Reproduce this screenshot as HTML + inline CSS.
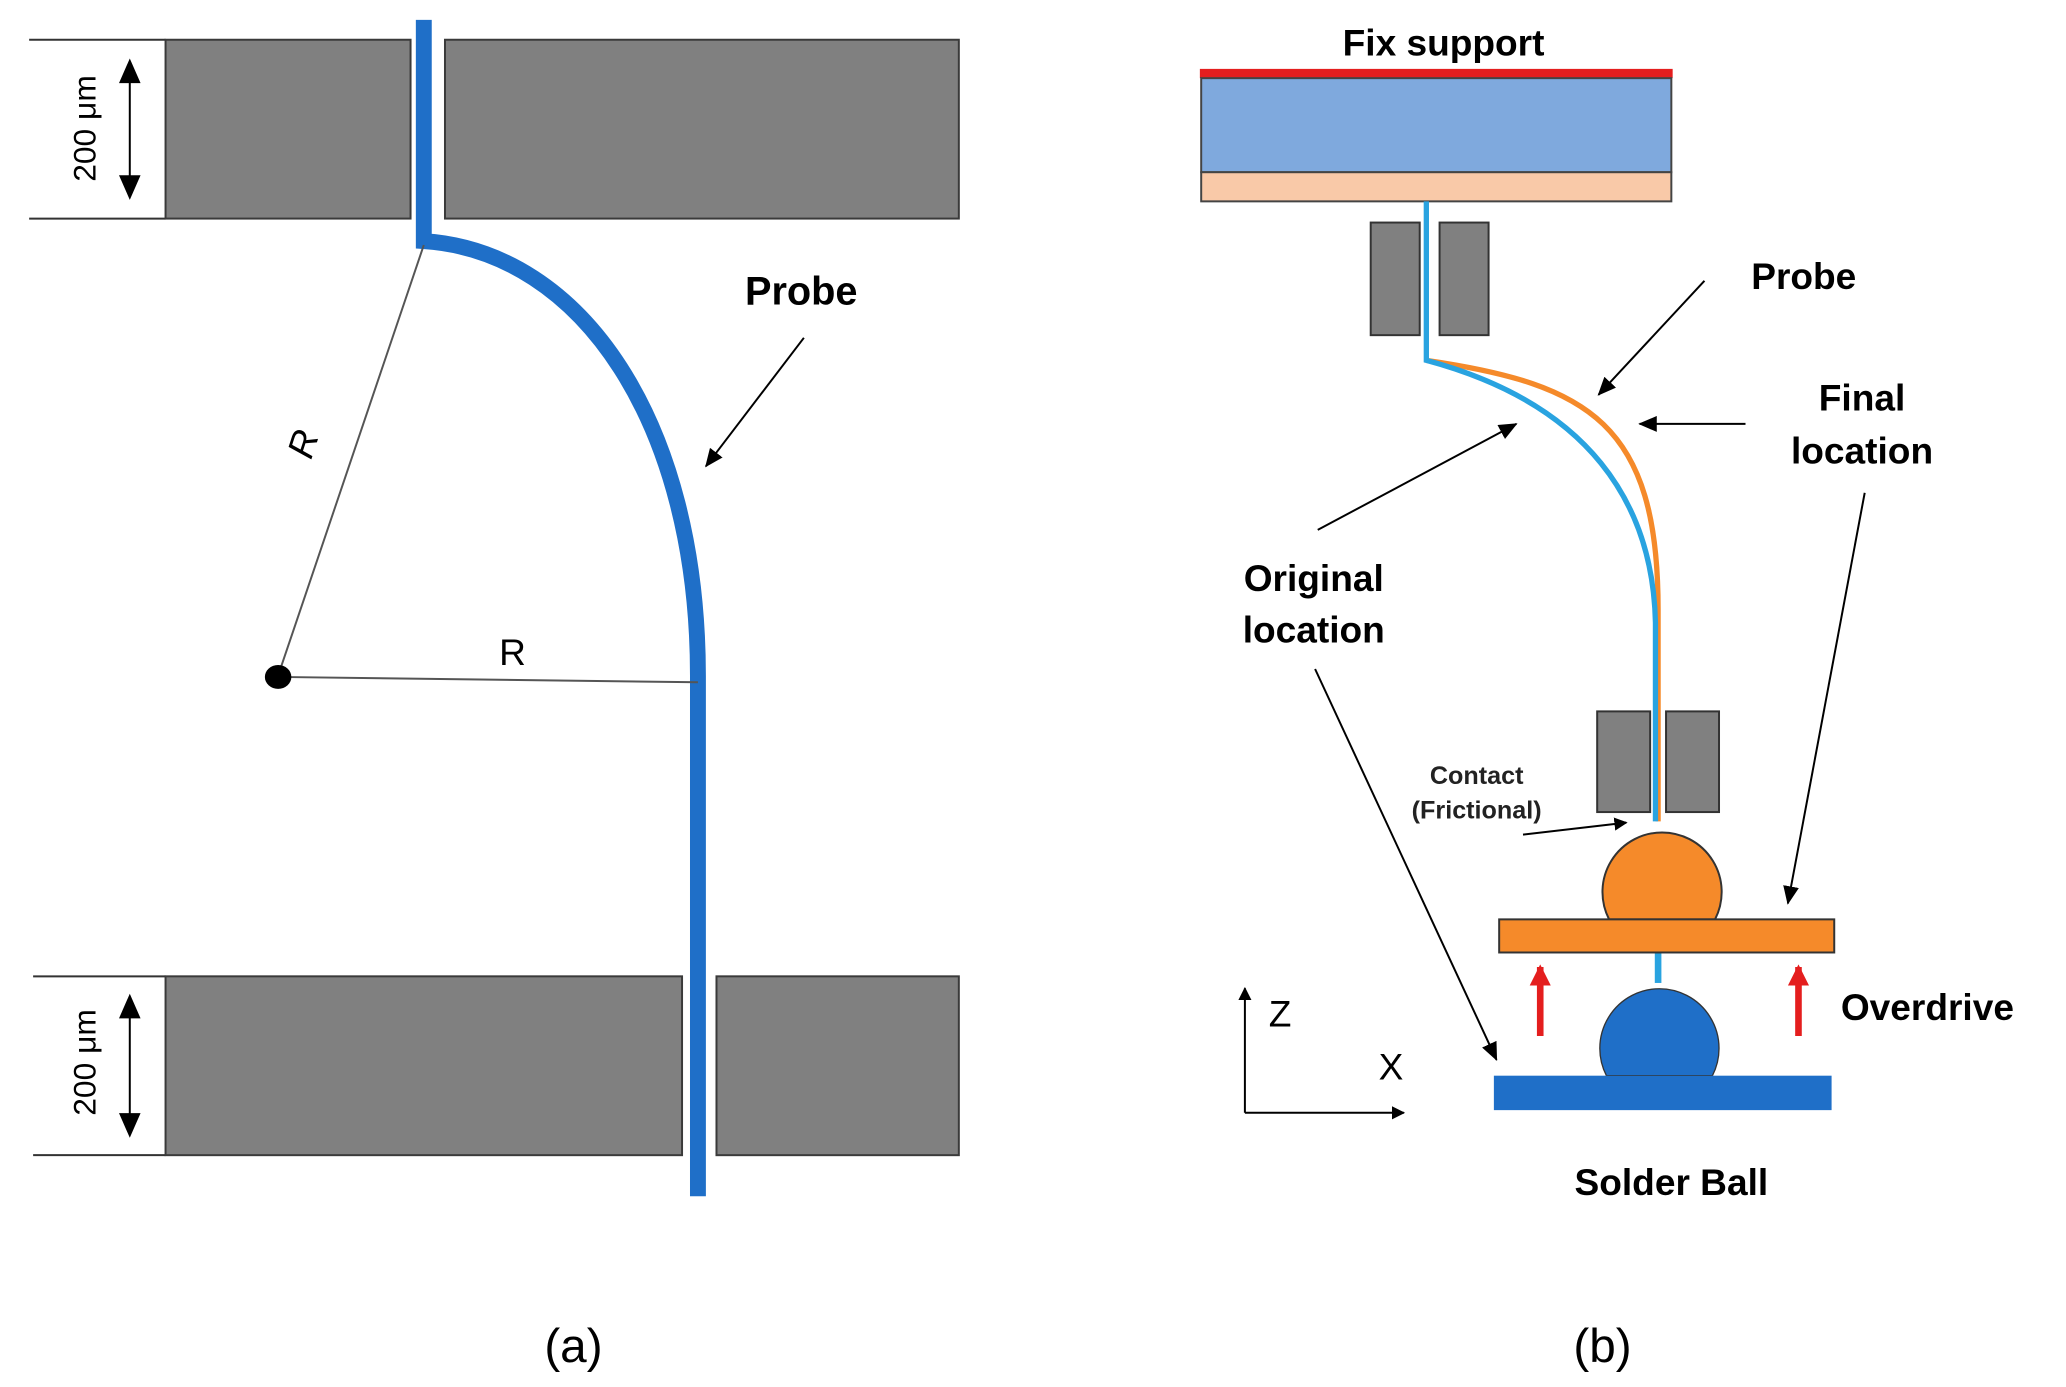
<!DOCTYPE html>
<html><head><meta charset="utf-8"><style>
html,body{margin:0;padding:0;background:#fff;}
svg{display:block;}
text{font-family:"Liberation Sans",sans-serif;}
</style></head><body>
<svg width="2066" height="1387" viewBox="0 0 1560 1047" preserveAspectRatio="none" xmlns="http://www.w3.org/2000/svg">
<defs>
<marker id="ah" markerWidth="10" markerHeight="10" refX="9" refY="5" orient="auto" markerUnits="userSpaceOnUse"><path d="M0,0 L10,5 L0,10 z" fill="#000"/></marker>
<marker id="ah2" markerWidth="14" markerHeight="12" refX="13" refY="6" orient="auto" markerUnits="userSpaceOnUse"><path d="M0,0 L14,6 L0,12 z" fill="#000"/></marker>
<marker id="rh" markerWidth="16" markerHeight="16" refX="14" refY="8" orient="auto" markerUnits="userSpaceOnUse"><path d="M0,0 L16,8 L0,16 z" fill="#e41e1e"/></marker>
</defs>
<rect width="1560" height="1047" fill="#fff"/>
<!-- LEFT -->
<g stroke="#333" stroke-width="1.5">
<line x1="22" y1="30" x2="125" y2="30"/><line x1="22" y1="165" x2="125" y2="165"/>
<line x1="25" y1="737" x2="125" y2="737"/><line x1="25" y1="872" x2="125" y2="872"/>
</g>
<g fill="#808080" stroke="#3a3a3a" stroke-width="1.5">
<rect x="125" y="30" width="185" height="135"/><rect x="336" y="30" width="388" height="135"/>
<rect x="125" y="737" width="390" height="135"/><rect x="541" y="737" width="183" height="135"/>
</g>
<g stroke="#000" stroke-width="1.5">
<line x1="98" y1="60" x2="98" y2="135" /><path d="M91,62 L98,46 L105,62 z M91,133 L98,149 L105,133 z" fill="#000"/>
<line x1="98" y1="766" x2="98" y2="843"/><path d="M91,768 L98,752 L105,768 z M91,841 L98,857 L105,841 z" fill="#000"/>
</g>
<text x="0" y="0" transform="translate(72,97) rotate(-90)" font-size="24" text-anchor="middle">200 μm</text>
<text x="0" y="0" transform="translate(72,802) rotate(-90)" font-size="24" text-anchor="middle">200 μm</text>
<path d="M320,15 L320,182 C440,190 527,320 527,510 L527,903" fill="none" stroke="#1f6fc8" stroke-width="12"/>
<line x1="320" y1="185" x2="210" y2="510" stroke="#555" stroke-width="1.5"/>
<line x1="210" y1="511" x2="527" y2="515" stroke="#555" stroke-width="1.5"/>
<ellipse cx="210" cy="511" rx="10" ry="9" fill="#000"/>
<text transform="translate(238,338) rotate(-72)" font-size="28" font-style="italic" text-anchor="middle">R</text>
<text x="387" y="502" font-size="28" text-anchor="middle">R</text>
<text x="605" y="230" font-size="30" font-weight="bold" text-anchor="middle">Probe</text>
<line x1="607" y1="255" x2="533" y2="352" stroke="#000" stroke-width="1.5" marker-end="url(#ah2)"/>
<text x="433" y="1028" font-size="36" text-anchor="middle">(a)</text>
<!-- RIGHT -->
<text x="1090" y="42" font-size="28" font-weight="bold" text-anchor="middle">Fix support</text>
<rect x="906" y="52" width="357" height="7" fill="#e41e1e"/>
<rect x="907" y="59" width="355" height="71" fill="#7fa9dd" stroke="#444" stroke-width="1.5"/>
<rect x="907" y="130" width="355" height="22" fill="#f9c9a8" stroke="#444" stroke-width="1.5"/>
<g fill="#808080" stroke="#333" stroke-width="1.5">
<rect x="1035" y="168" width="37" height="85"/><rect x="1087" y="168" width="37" height="85"/>
<rect x="1206" y="537" width="40" height="76"/><rect x="1258" y="537" width="40" height="76"/>
</g>
<path d="M1077,272 C1200,290 1252,320 1252,460 L1252,620" fill="none" stroke="#f58a2a" stroke-width="4"/>
<path d="M1077,152 L1077,272 C1200,305 1248,380 1250,470 L1250,620" fill="none" stroke="#29a3e0" stroke-width="4"/>
<line x1="1252" y1="719" x2="1252" y2="742" stroke="#29a3e0" stroke-width="5"/>
<path d="M1215,694 A45,45 0 1 1 1295,694 z" fill="#f58a2a" stroke="#333" stroke-width="1.5"/>
<rect x="1132" y="694" width="253" height="25" fill="#f58a2a" stroke="#333" stroke-width="1.5"/>
<path d="M1213,812 A45,45 0 1 1 1293,812 z" fill="#1f6fc8" stroke="#333" stroke-width="1"/>
<rect x="1128" y="812" width="255" height="26" fill="#1f6fc8"/>
<line x1="1163" y1="782" x2="1163" y2="730" stroke="#e41e1e" stroke-width="5" marker-end="url(#rh)"/>
<line x1="1358" y1="782" x2="1358" y2="730" stroke="#e41e1e" stroke-width="5" marker-end="url(#rh)"/>
<text x="1390" y="770" font-size="28" font-weight="bold">Overdrive</text>
<text x="1262" y="902" font-size="28" font-weight="bold" text-anchor="middle">Solder Ball</text>
<line x1="940" y1="840" x2="940" y2="746" stroke="#000" stroke-width="1.5" marker-end="url(#ah)"/>
<line x1="940" y1="840" x2="1060" y2="840" stroke="#000" stroke-width="1.5" marker-end="url(#ah)"/>
<text x="958" y="775" font-size="28">Z</text>
<text x="1041" y="815" font-size="28">X</text>
<text x="1362" y="218" font-size="28" font-weight="bold" text-anchor="middle">Probe</text>
<line x1="1287" y1="212" x2="1207" y2="298" stroke="#000" stroke-width="1.5" marker-end="url(#ah2)"/>
<text x="1406" y="310" font-size="28" font-weight="bold" text-anchor="middle">Final</text>
<text x="1406" y="350" font-size="28" font-weight="bold" text-anchor="middle">location</text>
<line x1="1318" y1="320" x2="1238" y2="320" stroke="#000" stroke-width="1.5" marker-end="url(#ah2)"/>
<line x1="1408" y1="372" x2="1350" y2="682" stroke="#000" stroke-width="1.5" marker-end="url(#ah2)"/>
<text x="992" y="446" font-size="28" font-weight="bold" text-anchor="middle">Original</text>
<text x="992" y="485" font-size="28" font-weight="bold" text-anchor="middle">location</text>
<line x1="995" y1="400" x2="1145" y2="320" stroke="#000" stroke-width="1.5" marker-end="url(#ah2)"/>
<line x1="993" y1="505" x2="1130" y2="800" stroke="#000" stroke-width="1.5" marker-end="url(#ah2)"/>
<text x="1115" y="592" font-size="19" font-weight="bold" text-anchor="middle" fill="#222">Contact</text>
<text x="1115" y="618" font-size="19" font-weight="bold" text-anchor="middle" fill="#222">(Frictional)</text>
<line x1="1150" y1="630" x2="1228" y2="621" stroke="#000" stroke-width="1.5" marker-end="url(#ah)"/>
<text x="1210" y="1028" font-size="36" text-anchor="middle">(b)</text>
</svg>
</body></html>
